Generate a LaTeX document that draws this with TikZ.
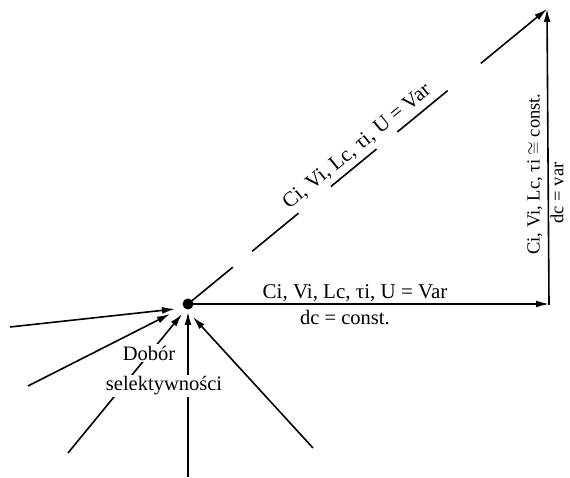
\documentclass[tikz,border=0pt]{standalone}
\usepackage{fontspec}
\setmainfont{Liberation Serif}
\usetikzlibrary{arrows.meta}
\tikzset{
  conn/.style={line width=1.6pt, -{Latex[length=13pt,width=7pt]}},
  lbl/.style={font=\fontsize{21}{23}\selectfont, inner sep=1pt},
  slbl/.style={font=\fontsize{20.5}{22}\selectfont, inner sep=1pt},
  vlbl/.style={font=\fontsize{18.5}{20}\selectfont, inner sep=1pt, rotate=90},
  cut/.style={slbl, fill=white, inner sep=2pt}
}
\begin{document}
\begin{tikzpicture}[x=1pt,y=1pt]
\useasboundingbox (0,0) rectangle (570,478);
% main points
\coordinate (O) at (188,174);
\coordinate (C) at (549,174);
\coordinate (T) at (547,469);
% incoming arrows
\coordinate (s1) at (10,151);   \coordinate (t1) at (175,169);
\coordinate (s2) at (28,92);    \coordinate (t2) at (170,164);
\coordinate (s3) at (68,25);    \coordinate (t3) at (182,164);
\coordinate (s4) at (188,1);    \coordinate (t4) at (188,166);
\coordinate (s5) at (313,30);   \coordinate (t5) at (193,161);
\draw[conn] (s1) -- (t1);
\draw[conn] (s2) -- (t2);
\draw[conn] (s3) -- (t3);
\draw[conn] (s4) -- (t4);
\draw[conn] (s5) -- (t5);
\node[cut] (dob) at (149,125) {Dobór};
\node[cut] (sel) at (164,92) {selektywności};
% outgoing
\draw[conn] (O) -- (C);
\draw[line width=1.6pt] (C) -- ++(0,-1);
\draw[conn] (C) -- (T);
\draw[conn, dash pattern=on 58pt off 25pt on 60pt off 42pt on 59pt off 27pt on 65pt off 43pt on 120pt] (O) -- (T);
\fill (O) circle (5.5);
% labels
\node[lbl, anchor=base] (hl) at (355,179) {Ci, Vi, Lc, τi, U = Var};
\node[slbl, anchor=base] (hd) at (345,153) {dc = const.};
\node[lbl, rotate=39.4] (dl) at (357,331) {Ci, Vi, Lc, τi, U = Var};
\node[vlbl] (vl) at (535,304) {Ci, Vi, Lc, τi $\cong$ const.};
\node[vlbl] (vd) at (557,285) {dc = var};
\end{tikzpicture}
\end{document}
